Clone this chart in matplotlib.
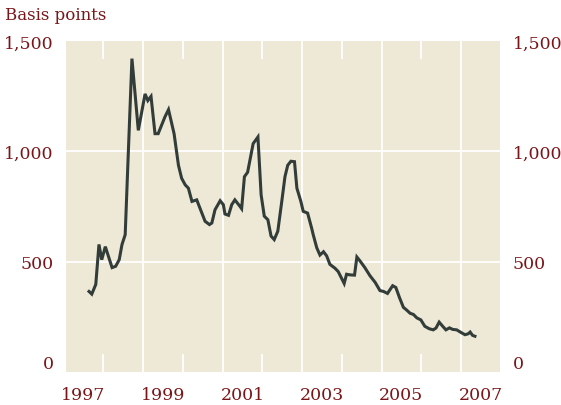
import matplotlib

matplotlib.use("Agg")
import matplotlib.pyplot as plt


# ===== 数据 =====
# 利差（基点），横轴为小数年份，按图上折线拐点读取
YEARS = [
    1997.64, 1997.71, 1997.81, 1997.89, 1997.96, 1998.05, 1998.22, 1998.31,
    1998.40, 1998.47, 1998.55, 1998.63, 1998.72, 1998.88, 1999.05, 1999.12,
    1999.20, 1999.30, 1999.38, 1999.55, 1999.64, 1999.78, 1999.89, 1999.97,
    2000.06, 2000.14, 2000.23, 2000.35, 2000.43, 2000.56, 2000.67, 2000.73,
    2000.81, 2000.94, 2001.02, 2001.06, 2001.15, 2001.23, 2001.31, 2001.44,
    2001.48, 2001.55, 2001.63, 2001.73, 2001.77, 2001.89, 2001.97, 2002.05,
    2002.14, 2002.22, 2002.30, 2002.39, 2002.49, 2002.57, 2002.64, 2002.72,
    2002.81, 2002.87, 2002.97, 2003.03, 2003.14, 2003.24, 2003.28, 2003.37,
    2003.45, 2003.54, 2003.62, 2003.70, 2003.83, 2003.91, 2004.06, 2004.12,
    2004.21, 2004.32, 2004.38, 2004.46, 2004.58, 2004.71, 2004.84, 2004.96,
    2005.05, 2005.15, 2005.28, 2005.36, 2005.45, 2005.55, 2005.63, 2005.72,
    2005.80, 2005.89, 2005.99, 2006.09, 2006.20, 2006.30, 2006.37, 2006.45,
    2006.54, 2006.62, 2006.71, 2006.79, 2006.89, 2007.02, 2007.10, 2007.18,
    2007.23, 2007.29, 2007.35,
]
SPREADS = [
    365, 353, 397, 578, 509, 568, 473, 479,
    509, 578, 622, 1000, 1420, 1095, 1260, 1230,
    1249, 1080, 1080, 1156, 1189, 1080, 937, 878,
    848, 833, 773, 780, 743, 683, 668, 675,
    735, 776, 758, 716, 710, 758, 780, 750,
    740, 885, 905, 998, 1035, 1065, 803, 706,
    690, 616, 600, 638, 773, 885, 937, 955,
    953, 833, 773, 728, 720, 653, 623, 563,
    530, 545, 526, 488, 470, 455, 401, 443,
    440, 439, 521, 503, 473, 436, 406, 369,
    365, 356, 391, 383, 338, 293, 281, 266,
    261, 245, 236, 207, 196, 191, 199, 226,
    207, 191, 200, 193, 191, 177, 169, 173,
    181, 166, 162,
]

Y_TICKS = [0, 500, 1000, 1500]
Y_TICK_LABELS = ["0", "500", "1,000", "1,500"]
LABEL_YEARS = [1997, 1999, 2001, 2003, 2005, 2007]
GRID_YEARS = [1999, 2001, 2003, 2005, 2007]
HALF_TICK_YEARS = [1998, 2000, 2002, 2004, 2006]

# ===== 样式 =====
BACKGROUND = "#EEE9D7"
LINE_COLOR = "#323D3A"
TEXT_COLOR = "#7A1518"
FONT = "DejaVu Serif"
FONT_SIZE = 12.5


def style_labels(axis, side):
    """设置左右两侧的 y 轴刻度标签，0 稍微上移。"""
    axis.set_ylim(0, 1500)
    axis.set_yticks(Y_TICKS)
    axis.set_yticklabels(Y_TICK_LABELS)
    axis.tick_params(
        axis="y", length=0, pad=9, labelcolor=TEXT_COLOR, labelsize=FONT_SIZE
    )
    if side == "right":
        axis.yaxis.tick_right()
    for label in axis.get_yticklabels():
        label.set_fontfamily(FONT)
        if label.get_text() == "0":
            label.set_verticalalignment("bottom")


def main():
    figure = plt.figure(figsize=(5.61, 4.06), dpi=100)
    axis = figure.add_axes([0.1176, 0.0813, 0.7736, 0.8153])
    axis.set_facecolor(BACKGROUND)
    for spine in axis.spines.values():
        spine.set_visible(False)

    # 白色网格线：奇数年整条，偶数年只在上下两端画短刻度
    for year in GRID_YEARS:
        axis.axvline(year, color="white", linewidth=1.3, zorder=1)
    for year in HALF_TICK_YEARS:
        axis.axvline(year, ymin=0, ymax=0.05, color="white", linewidth=1.3, zorder=1)
        axis.axvline(year, ymin=0.95, ymax=1, color="white", linewidth=1.3, zorder=1)
    for value in [500, 1000]:
        axis.axhline(value, color="white", linewidth=1.3, zorder=1)

    axis.plot(
        YEARS,
        SPREADS,
        color=LINE_COLOR,
        linewidth=2.2,
        solid_joinstyle="miter",
        zorder=3,
    )

    axis.set_xlim(1997.06, 2007.98)
    axis.set_xticks([year + 0.5 for year in LABEL_YEARS])
    axis.set_xticklabels([str(year) for year in LABEL_YEARS])
    axis.tick_params(
        axis="x", length=0, pad=10, labelcolor=TEXT_COLOR, labelsize=FONT_SIZE
    )
    for label in axis.get_xticklabels():
        label.set_fontfamily(FONT)

    style_labels(axis, "left")
    right_axis = axis.twinx()
    for spine in right_axis.spines.values():
        spine.set_visible(False)
    style_labels(right_axis, "right")

    figure.text(
        5 / 561,
        1 - 16 / 406,
        "Basis points",
        color=TEXT_COLOR,
        fontsize=FONT_SIZE - 0.5,
        fontfamily=FONT,
        ha="left",
        va="center",
    )

    figure.savefig("out.png", dpi=100)
    plt.close(figure)


if __name__ == "__main__":
    main()
